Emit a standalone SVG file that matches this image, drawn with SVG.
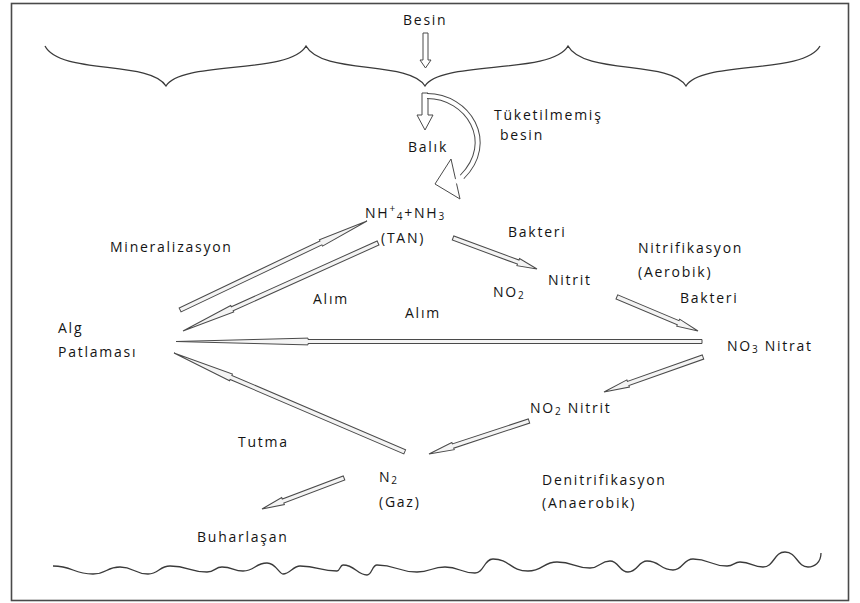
<svg xmlns="http://www.w3.org/2000/svg" width="860" height="603" viewBox="0 0 860 603">
<style>
text{font-family:"Open Sans","Liberation Sans",sans-serif;font-size:14px;fill:#141414;letter-spacing:1.75px}
.sub{font-size:10px}
.arr{fill:#f4f4f4;stroke:#4a4a4a;stroke-width:1;stroke-linejoin:miter}
.line{fill:none;stroke:#3a3a3a;stroke-width:1.3}
.hollow{fill:#fff;stroke:#4a4a4a;stroke-width:1}
</style>
<rect x="11.5" y="3.5" width="837" height="597" fill="#fff" stroke="#4a4a4a" stroke-width="1.6"/>

<g id="surface">
<path class="line" d="M45,46 C60,75 150,60 166,86 C182,60 290,75 306,46 C322,75 409,60 425,86 C441,60 552,75 568,46 C584,75 670,60 686,86 C702,60 804,75 820,46"/>
</g>

<g id="bottom">
<path class="line" d="M53,566 C73,566 73,574 93,574 C107,574 106,567 120,567 C134,567 134,574 148,574 C159,574 159,566 170,566 C189,566 189,572 207,572 C215,572 215,567 222,567 C233,567 233,571 243,571 C255,571 255,563 267,563 C276,563 279,574 283,574 C290,574 293,566 300,566 C319,566 319,571 337,571 C340,571 340,565 343,565 C355,565 357,575 367,575 C372,575 372,565 377,565 C397,565 397,572 417,572 C431,572 431,567 445,567 C460,567 460,573 475,573 C484,573 484,559 493,559 C510,559 510,571 528,571 C543,571 543,562 557,562 C574,562 574,568 590,568 C600,568 600,561 610,561 C619,561 619,572 628,572 C638,572 638,561 647,561 C660,561 660,570 673,570 C683,570 683,559 693,559 C710,559 710,566 727,566 C734,566 734,562 740,562 C752,562 752,567 763,567 C774,567 774,552 785,552 C797,552 797,567 808,567 C814,567 821,563 821,553"/>
</g>

<g id="connectors">
<!-- Besin down arrow -->
<polygon class="hollow" points="423,33 428,33 428,60 431,60 425.5,68 420,60 423,60"/>
<!-- Balik down arrow -->
<polygon class="hollow" points="422,93 428,93 428,115 433,115 425,130 417,115 422,115"/>
<!-- Uneaten feed curved arrow -->
<path d="M427,96 C468,96 497,142 462,177" fill="none" stroke="#4a4a4a" stroke-width="6"/>
<polygon class="hollow" points="451,159 435,184 460,199"/>
<path d="M427,96 C468,96 497,142 462,177 L455,182" fill="none" stroke="#fff" stroke-width="4"/>
<!-- Mineralizasyon -->
<g transform="translate(367,221) rotate(-25.45)"><polygon class="arr" points="0,0 -51,-3.6 -51,-2.2 -207,-2.2 -207,2.2 -51,2.2 -51,3.6"/></g>
<!-- Alim 1 -->
<g transform="translate(183,331) rotate(155.71)"><polygon class="arr" points="0,0 -54,-3.6 -54,-2.2 -214,-2.2 -214,2.2 -54,2.2 -54,3.6"/></g>
<!-- Alim 2 horizontal -->
<g transform="translate(176,341.5) rotate(180)"><polygon class="arr" points="0,0 -132,-3.4 -132,-2 -526,-2 -526,2 -132,2 -132,3.4"/></g>
<!-- Tutma -->
<g transform="translate(174,353) rotate(-156.8)"><polygon class="arr" points="0,0 -62,-3.6 -62,-2.2 -251,-2.2 -251,2.2 -62,2.2 -62,3.6"/></g>
<!-- Bakteri 1 -->
<g transform="translate(537,269) rotate(20.26)"><polygon class="arr" points="0,0 -20,-3.8 -20,-2.2 -89.5,-2.2 -89.5,2.2 -20,2.2 -20,3.8"/></g>
<!-- Bakteri 2 -->
<g transform="translate(698,331) rotate(22.77)"><polygon class="arr" points="0,0 -21.5,-3.8 -21.5,-2.2 -88,-2.2 -88,2.2 -21.5,2.2 -21.5,3.8"/></g>
<!-- NO3 -> NO2 -->
<g transform="translate(604,392) rotate(160.53)"><polygon class="arr" points="0,0 -25.6,-3.8 -25.6,-2.2 -105,-2.2 -105,2.2 -25.6,2.2 -25.6,3.8"/></g>
<!-- NO2 -> N2 -->
<g transform="translate(429,454) rotate(161.74)"><polygon class="arr" points="0,0 -25.3,-3.8 -25.3,-2.2 -105.3,-2.2 -105.3,2.2 -25.3,2.2 -25.3,3.8"/></g>
<!-- N2 -> Buharlasan -->
<g transform="translate(262,509) rotate(159.29)"><polygon class="arr" points="0,0 -22.5,-3.8 -22.5,-2.2 -87.7,-2.2 -87.7,2.2 -22.5,2.2 -22.5,3.8"/></g>
</g>

<g id="besin"><text x="403" y="25">Besin</text></g>
<g id="tuketilmemis"><text x="494" y="120">Tüketilmemiş</text><text x="500" y="140">besin</text></g>
<g id="balik"><text x="408" y="152">Balık</text></g>
<g id="tan"><text x="365" y="218">NH<tspan class="sub" dy="-6">+</tspan><tspan class="sub" dy="8">4</tspan><tspan dy="-2">+NH</tspan><tspan class="sub" dy="2">3</tspan></text><text x="381" y="243">(TAN)</text></g>
<g id="mineralizasyon"><text x="110" y="252">Mineralizasyon</text></g>
<g id="bakteri1"><text x="508" y="237">Bakteri</text></g>
<g id="nitrifikasyon"><text x="638" y="253">Nitrifikasyon</text><text x="638" y="277">(Aerobik)</text></g>
<g id="nitrit1"><text x="548" y="285">Nitrit</text></g>
<g id="no2a"><text x="493" y="297">NO<tspan class="sub" dy="2">2</tspan></text></g>
<g id="bakteri2"><text x="680" y="303">Bakteri</text></g>
<g id="alim1"><text x="313" y="304">Alım</text></g>
<g id="alim2"><text x="405" y="318">Alım</text></g>
<g id="alg"><text x="58" y="333">Alg</text><text x="58" y="357">Patlaması</text></g>
<g id="nitrat"><text x="727" y="351">NO<tspan class="sub" dy="2">3</tspan><tspan dy="-2"> Nitrat</tspan></text></g>
<g id="nitrit2"><text x="530" y="413">NO<tspan class="sub" dy="2">2</tspan><tspan dy="-2"> Nitrit</tspan></text></g>
<g id="tutma"><text x="238" y="447">Tutma</text></g>
<g id="n2"><text x="379" y="482">N<tspan class="sub" dy="2">2</tspan></text><text x="379" y="507">(Gaz)</text></g>
<g id="denitrifikasyon"><text x="542" y="485">Denitrifikasyon</text><text x="542" y="508">(Anaerobik)</text></g>
<g id="buharlasan"><text x="197" y="542">Buharlaşan</text></g>
</svg>
